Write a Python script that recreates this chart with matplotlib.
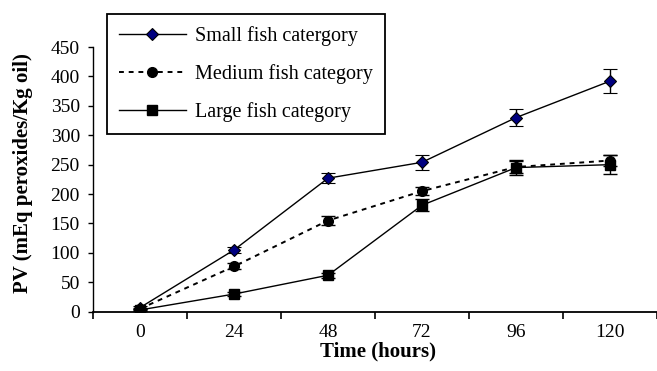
import numpy as np
import matplotlib.pyplot as plt
from matplotlib.ticker import FixedLocator

plt.rcParams['font.family'] = ['Liberation Serif', 'DejaVu Serif']

hours = ['0', '24', '48', '72', '96', '120']
small = [7, 105, 227, 254, 330, 392]
small_err = [3, 5, 9, 13, 15, 20]
medium = [5, 77, 155, 205, 246, 257]
medium_err = [2, 5, 8, 7, 10, 9]
large = [3, 30, 62, 181, 245, 250]
large_err = [2, 3, 4, 10, 13, 16]

fig = plt.figure(figsize=(6.57, 3.71), dpi=100)
ax = fig.add_axes([0.1416, 0.1598, 0.8584, 0.7135])

x = np.arange(len(hours))
eb = dict(ecolor='black', elinewidth=1, capsize=4.7, capthick=1)
h1 = ax.errorbar(x, small, yerr=small_err, color='black', lw=1, marker='D', ms=6.5,
                 mfc='#000080', mec='black', mew=0.8, **eb)
h2 = ax.errorbar(x, medium, yerr=medium_err, color='black', lw=1.4, ls=(0, (2.5, 2.5)),
                 marker='o', ms=7, mfc='black', mec='black', **eb)
h3 = ax.errorbar(x, large, yerr=large_err, color='black', lw=1, marker='s', ms=7,
                 mfc='black', mec='black', **eb)

ax.set_xlim(-0.5, 5.5)
ax.set_ylim(0, 450)
ax.set_yticks(range(0, 451, 50))
ax.xaxis.set_major_locator(FixedLocator(np.arange(-0.5, 6, 1)))
ax.xaxis.set_minor_locator(FixedLocator(x))
ax.set_xticklabels([])
ax.set_xticklabels(hours, minor=True)
ax.tick_params(axis='x', which='major', direction='out', length=5, width=1.2)
ax.tick_params(axis='x', which='minor', length=0, pad=9, labelsize=14)
ax.tick_params(axis='y', direction='out', length=3.5, width=1, labelsize=14, pad=6)
for s in ['top', 'right']:
    ax.spines[s].set_visible(False)
ax.spines['left'].set_linewidth(1)
ax.spines['bottom'].set_linewidth(1.3)

ax.set_xlabel('Time (hours)', fontweight='bold', fontsize=15)
ax.set_ylabel('PV (mEq peroxides/Kg oil)', fontweight='bold', fontsize=15)
ax.xaxis.set_label_coords(0.505, -0.112)
ax.yaxis.set_label_coords(-0.106, 0.525)

leg = fig.legend([h1[0], h2[0], h3[0]],
                 ['Small fish catergory', 'Medium fish category', 'Large fish category'],
                 loc='upper left', bbox_to_anchor=(107 / 657, 1 - 14 / 371),
                 fancybox=False, edgecolor='black', framealpha=1, fontsize=14.5,
                 handlelength=3.3, handletextpad=0.45, labelspacing=0.9,
                 borderpad=0.6, borderaxespad=0)
leg.get_frame().set_linewidth(1.3)

fig.savefig('out.png', dpi=100)
